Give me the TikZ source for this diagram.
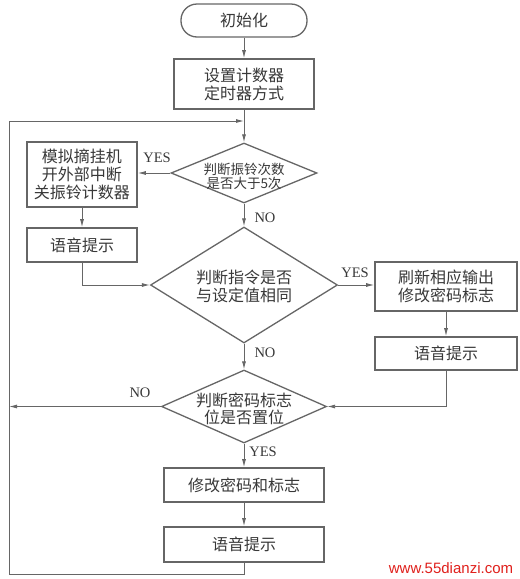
\documentclass[tikz,border=0pt]{standalone}
\usepackage{fontspec}
\setmainfont{Liberation Serif}
\newfontfamily\cjk{Noto Sans CJK SC}
\newfontfamily\wmfont{Liberation Sans}
\usetikzlibrary{shapes.geometric,arrows.meta}
\definecolor{linec}{HTML}{666666}
\definecolor{textc}{HTML}{383838}
\definecolor{wmred}{HTML}{E0201C}
\tikzset{
  boxst/.style={draw=linec, line width=1.6pt, rectangle, inner sep=0pt, text=textc,
    font=\cjk\fontsize{16}{18}\selectfont, align=center},
  termst/.style={boxst, line width=1.3pt, rounded corners=16pt},
  diast/.style={draw=linec, line width=1.3pt, diamond, inner sep=0pt},
  diatext/.style={text=textc, align=center, inner sep=0pt, font=\cjk\fontsize{16}{17}\selectfont},
  conn/.style={draw=linec, line width=0.9pt},
  arr/.style={conn, -{Latex[length=8pt,width=4pt]}},
  lab/.style={text=textc, inner sep=0pt, font=\fontsize{14.5}{15}\selectfont}
}
\begin{document}
\begin{tikzpicture}[x=1pt,y=-1pt]
\useasboundingbox[fill=white] (0,0) rectangle (520,579);
% nodes
\node[termst, minimum width=126pt, minimum height=33pt] (start) at (244,20.5) {初始化};
\node[boxst, minimum width=140pt, minimum height=50pt] (setup) at (244,84) {设置计数器\\定时器方式};
\node[diast, minimum width=146pt, minimum height=60pt] (d1) at (244,173) {};
\node[diatext, font=\cjk\fontsize{13.5}{14}\selectfont] (d1t) at (244,176.5) {判断振铃次数\\是否大于5次};
\node[boxst, minimum width=110pt, minimum height=65pt] (b1) at (82,174.5) {模拟摘挂机\\开外部中断\\关振铃计数器};
\node[boxst, minimum width=110pt, minimum height=34pt] (b2) at (82,245) {语音提示};
\node[diast, minimum width=187pt, minimum height=116pt] (d2) at (244,285) {};
\node[diatext, font=\cjk\fontsize{16}{18}\selectfont] (d2t) at (244,286) {判断指令是否\\与设定值相同};
\node[boxst, minimum width=142pt, minimum height=49pt] (r1) at (446,286.5) {刷新相应输出\\修改密码标志};
\node[boxst, minimum width=142pt, minimum height=33pt] (r2) at (446,353.5) {语音提示};
\node[diast, minimum width=165pt, minimum height=73pt] (d3) at (244,406.5) {};
\node[diatext] (d3t) at (244,409) {判断密码标志\\位是否置位};
\node[boxst, minimum width=160pt, minimum height=34pt] (m1) at (244,485) {修改密码和标志};
\node[boxst, minimum width=160pt, minimum height=35pt] (m2) at (244,544.5) {语音提示};
% loop coordinates
\coordinate (bot) at (244,574);
\coordinate (bl) at (9,574);
\coordinate (tl) at (9,121);
\coordinate (tj) at (244,121);
% connectors
\draw[arr] (start) -- (setup);
\draw[arr] (setup) -- (d1);
\draw[arr] (d1.west) -- (d1.west -| b1.east);
\draw[arr] (b1) -- (b2);
\draw[arr] (b2.south) |- (d2.west);
\draw[arr] (d1) -- (d2);
\draw[arr] (d2.east) -- (d2.east -| r1.west);
\draw[arr] (r1) -- (r2);
\draw[arr] (r2.south) |- (d3.east);
\draw[arr] (d2) -- (d3);
\draw[arr] (d3.west) -- (d3.west -| tl);
\draw[arr] (d3) -- (m1);
\draw[arr] (m1) -- (m2);
\draw[conn] (m2.south) -- (bot) -- (bl) -- (tl);
\draw[arr] (tl) -- (tj);
% labels
\node[lab] (l1) at (157,158) {YES};
\node[lab] (l2) at (265,218) {NO};
\node[lab] (l3) at (355,273) {YES};
\node[lab] (l4) at (265,353) {NO};
\node[lab] (l5) at (140,393) {NO};
\node[lab] (l6) at (263,452) {YES};
\node[text=wmred, inner sep=0pt, font=\wmfont\fontsize{15}{15}\selectfont] (wm) at (451,568) {www.55dianzi.com};
\end{tikzpicture}
\end{document}
